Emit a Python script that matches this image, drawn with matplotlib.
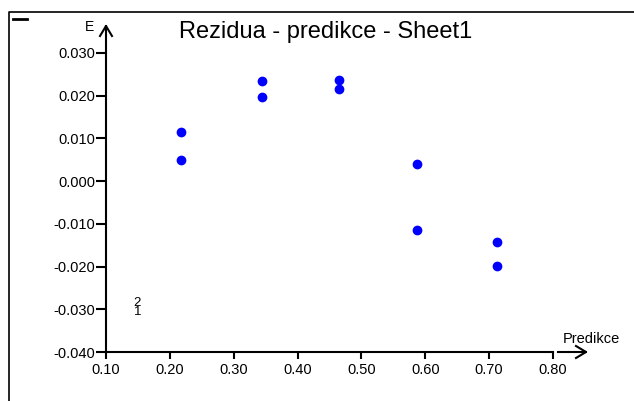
import matplotlib.pyplot as plt
from matplotlib.lines import Line2D

plt.rcParams['font.family'] = ['Liberation Sans', 'DejaVu Sans']

# data
predikce = [0.218, 0.218, 0.344, 0.344, 0.465, 0.465, 0.587, 0.587, 0.712, 0.712]
rezidua = [0.0114, 0.0049, 0.0235, 0.0197, 0.0236, 0.0216, 0.0040, -0.0114, -0.0142, -0.0198]
x_ticks = [0.10, 0.20, 0.30, 0.40, 0.50, 0.60, 0.70, 0.80]
y_ticks = [-0.040, -0.030, -0.020, -0.010, 0.000, 0.010, 0.020, 0.030]
labels_x = [0.149, 0.149]
labels_y = [-0.0307, -0.0286]
labels_txt = ["1", "2"]

W, H = 634, 401
fig = plt.figure(figsize=(W / 100, H / 100), dpi=100)


def fx(px):
    return px / W


def fy(py):
    return 1 - py / H


ax = fig.add_axes([fx(106), fy(352), (553 - 106) / W, (352 - 53) / H])

ax.plot(predikce, rezidua, 'o', color=(0, 0, 1), markersize=6, clip_on=False)
for x, y, t in zip(labels_x, labels_y, labels_txt):
    ax.text(x, y, t, ha='center', va='center', fontsize=9.5)

ax.set_xlim(0.10, 0.80)
ax.set_ylim(-0.040, 0.030)
ax.set_xticks(x_ticks)
ax.set_yticks(y_ticks)
ax.set_xticklabels([f"{v:.2f}" for v in x_ticks])
ax.set_yticklabels([f"{v:.3f}" for v in y_ticks])
ax.tick_params(axis='x', direction='out', length=5, width=1.5, labelsize=10.5, pad=3)
ax.tick_params(axis='y', direction='out', length=7, width=1.5, labelsize=10.5, pad=1)

for s in ['top', 'right']:
    ax.spines[s].set_visible(False)
for s in ['left', 'bottom']:
    ax.spines[s].set_linewidth(1.5)

# axis arrows
fig.add_artist(Line2D([fx(106), fx(106)], [fy(53), fy(26)], lw=1.5, color='black'))
fig.add_artist(Line2D([fx(100), fx(106), fx(112)], [fy(36), fy(26), fy(36)], lw=1.5, color='black'))
fig.add_artist(Line2D([fx(558), fx(586)], [fy(352), fy(352)], lw=1.5, color='black'))
fig.add_artist(Line2D([fx(576), fx(586), fx(576)], [fy(346), fy(352), fy(358)], lw=1.5, color='black'))

fig.text(fx(90), fy(27), "E", ha='center', va='center', fontsize=10)
fig.text(fx(591), fy(339), "Predikce", ha='center', va='center', fontsize=10.5)
fig.text(fx(326), fy(32), "Rezidua - predikce - Sheet1", ha='center', va='center', fontsize=17)

# outer frame and mark
fig.add_artist(Line2D([fx(9), fx(9), fx(634)], [fy(401), fy(12), fy(12)], lw=1.2, color='black'))
fig.add_artist(Line2D([fx(13), fx(27)], [fy(18.5), fy(18.5)], lw=2, color='black'))

fig.savefig("out.png", dpi=100)
